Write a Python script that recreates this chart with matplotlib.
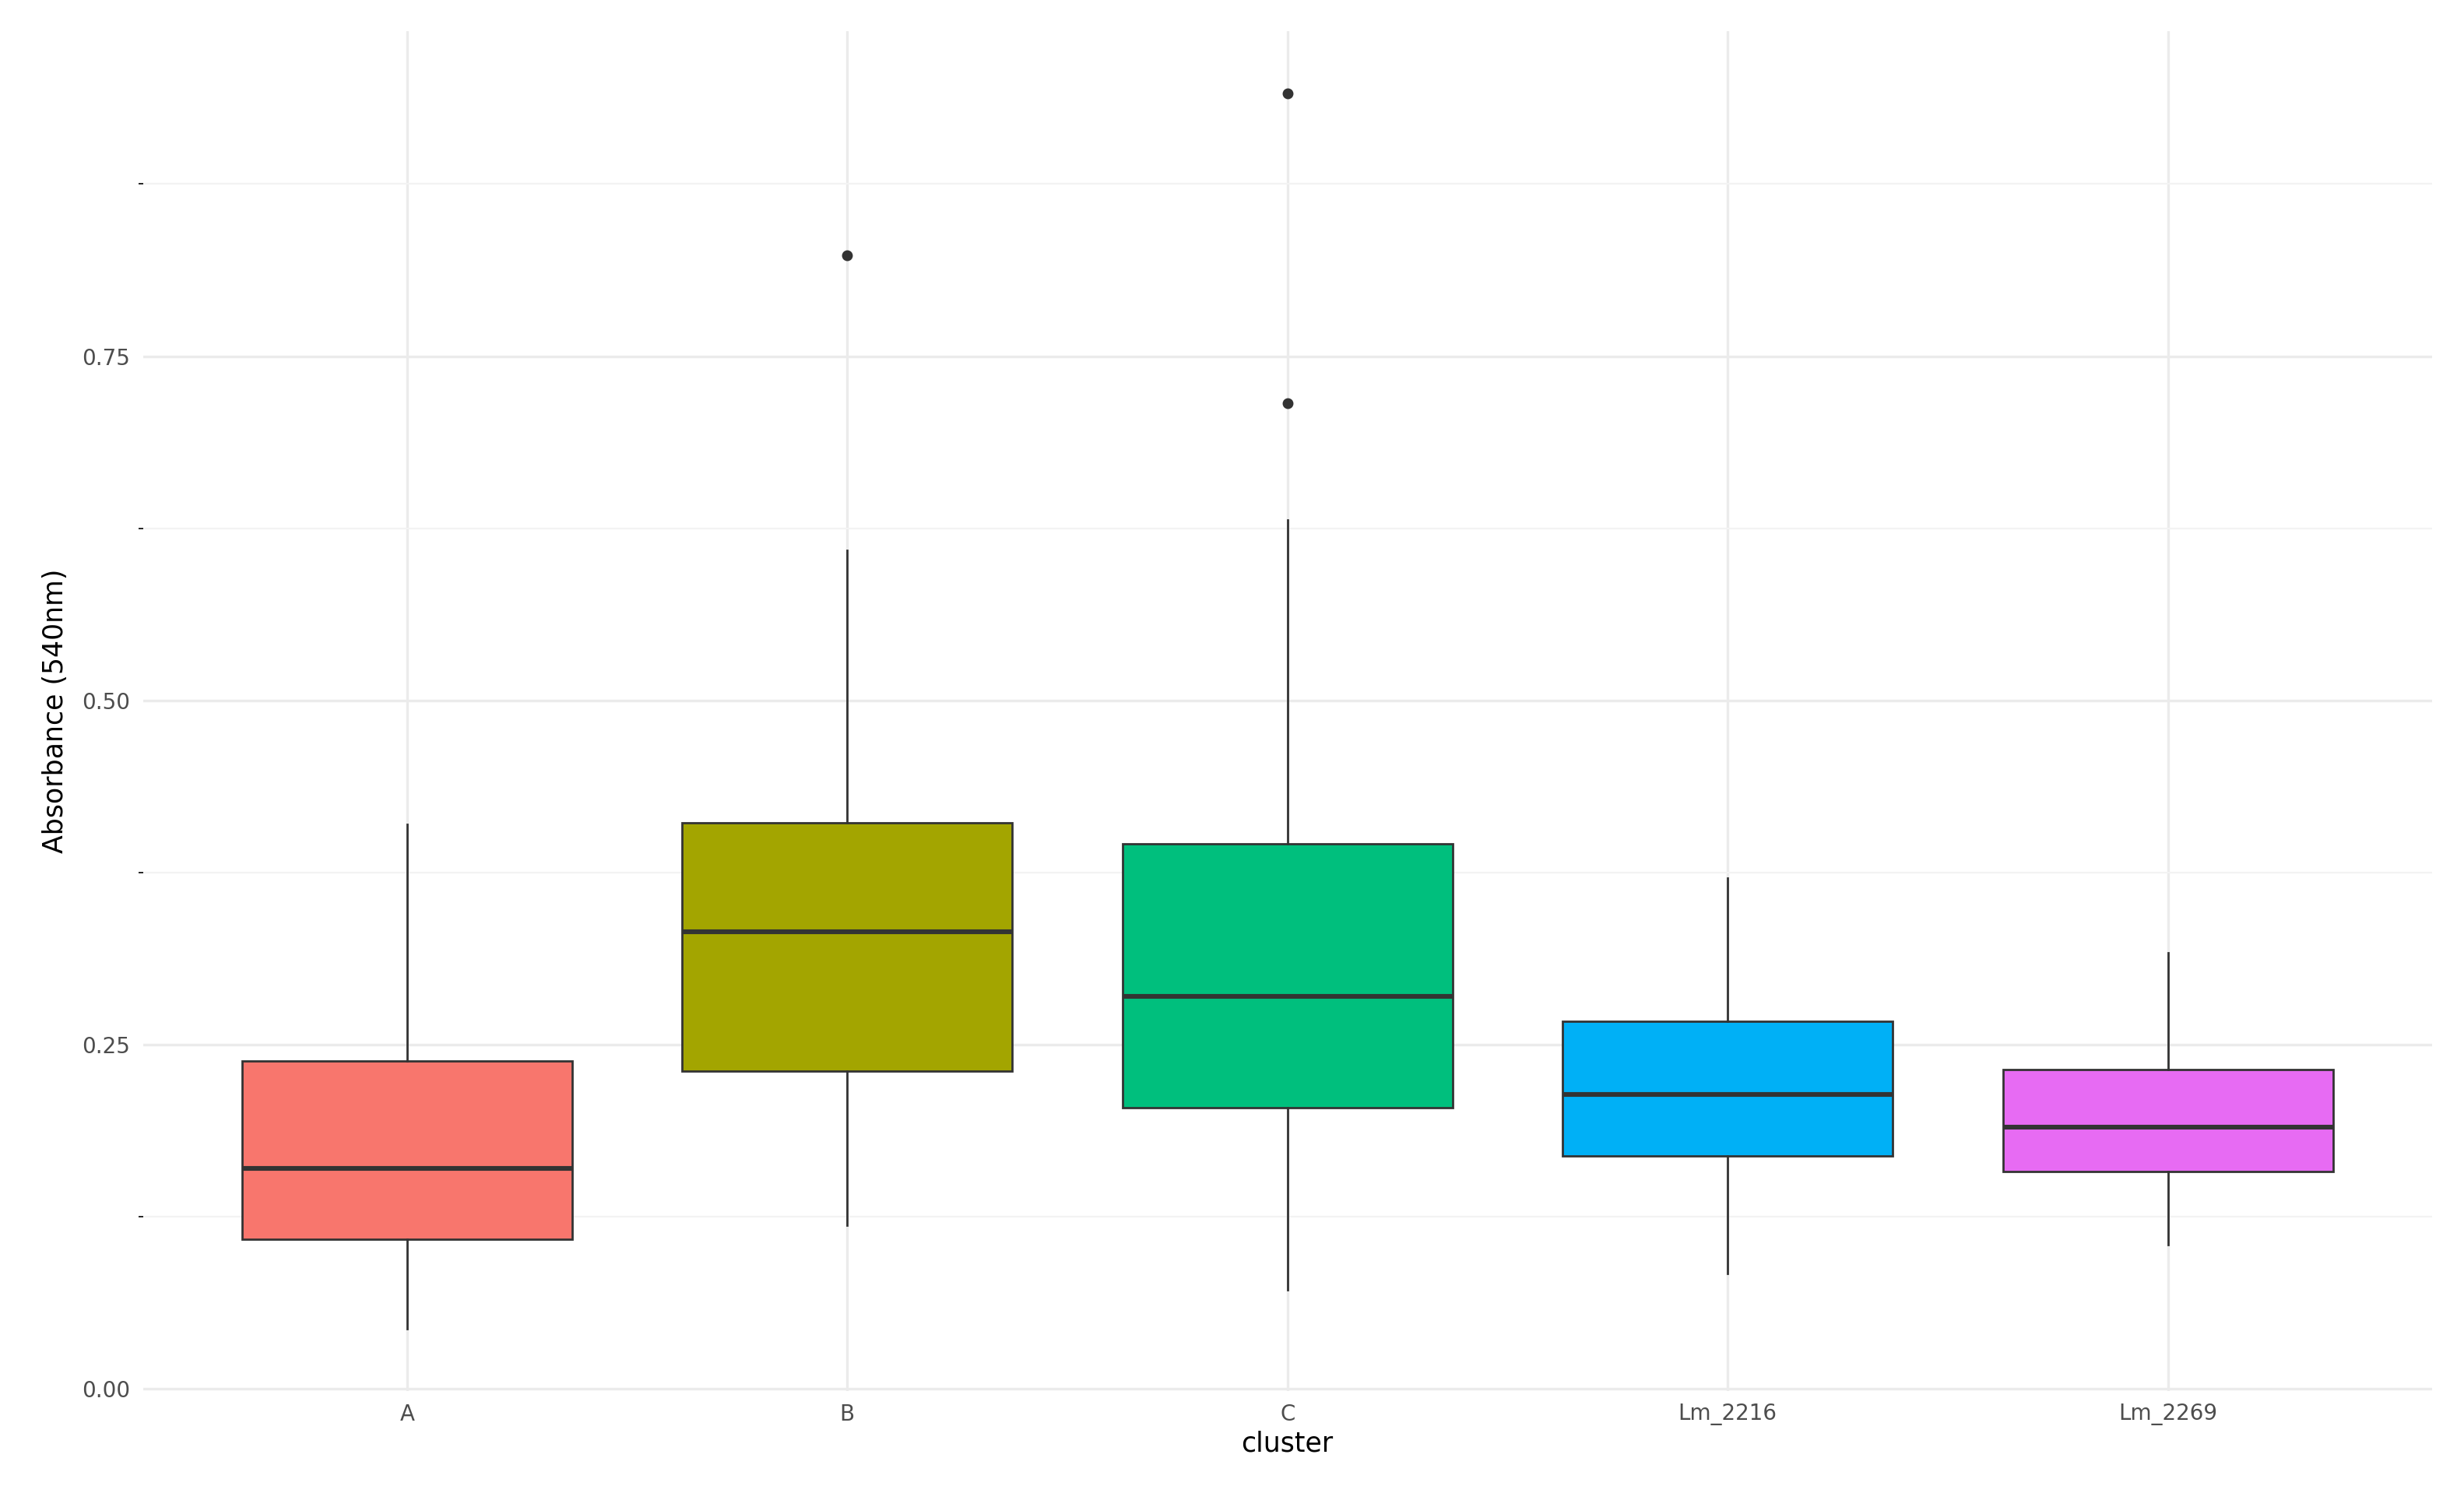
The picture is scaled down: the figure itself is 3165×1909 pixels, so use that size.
import matplotlib
matplotlib.use("Agg")
import matplotlib.pyplot as plt

categories = ["A", "B", "C", "Lm_2216", "Lm_2269"]
whislo = [0.0435, 0.119, 0.072, 0.0836, 0.105]
q1 = [0.109, 0.231, 0.204, 0.169, 0.158]
med = [0.160, 0.332, 0.285, 0.214, 0.190]
q3 = [0.238, 0.411, 0.396, 0.267, 0.232]
whishi = [0.410, 0.609, 0.631, 0.371, 0.317]
outliers = [[], [0.823], [0.716, 0.941], [], []]
colors = ["#F8766D", "#A3A500", "#00BF7D", "#00B0F6", "#E76BF3"]

fig = plt.figure(figsize=(3165/200, 1909/200), dpi=200)
ax = fig.add_axes([0.058, 0.064, 0.929, 0.915])
stats = [dict(label=c, whislo=a, q1=b, med=m, q3=d, whishi=e, fliers=f)
         for c, a, b, m, d, e, f in zip(categories, whislo, q1, med, q3, whishi, outliers)]
pos = list(range(1, len(categories) + 1))
bp = ax.bxp(stats, positions=pos, widths=0.75, patch_artist=True, showcaps=False,
            boxprops=dict(linewidth=1.0, edgecolor="#333333"),
            whiskerprops=dict(linewidth=1.0, color="#333333"),
            medianprops=dict(linewidth=2.2, color="#333333"),
            flierprops=dict(marker="o", markerfacecolor="#333333", markeredgecolor="#333333", markersize=4))
for p, c in zip(bp["boxes"], colors):
    p.set_facecolor(c)
    p.set_zorder(3)
for k in ["whiskers", "medians", "fliers"]:
    for l in bp[k]:
        l.set_zorder(3)
ax.set_ylim(-0.0014, 0.986)
ax.set_xlim(0.4, 5.6)
ax.set_yticks([0, 0.25, 0.5, 0.75])
ax.set_yticklabels(["0.00", "0.25", "0.50", "0.75"])
ax.set_yticks([0.125, 0.375, 0.625, 0.875], minor=True)
ax.grid(True, which="major", color="#EBEBEB", linewidth=1.2, zorder=0)
ax.grid(True, which="minor", axis="y", color="#F3F3F3", linewidth=0.8, zorder=0)
ax.set_axisbelow(True)
for s in ax.spines.values():
    s.set_visible(False)
ax.tick_params(length=0, labelsize=10, labelcolor="#4D4D4D", pad=6)
ax.set_xlabel("cluster", fontsize=12.5, labelpad=2)
ax.set_ylabel("Absorbance (540nm)", fontsize=12.5, labelpad=6)
fig.savefig("out.png", dpi=200)
